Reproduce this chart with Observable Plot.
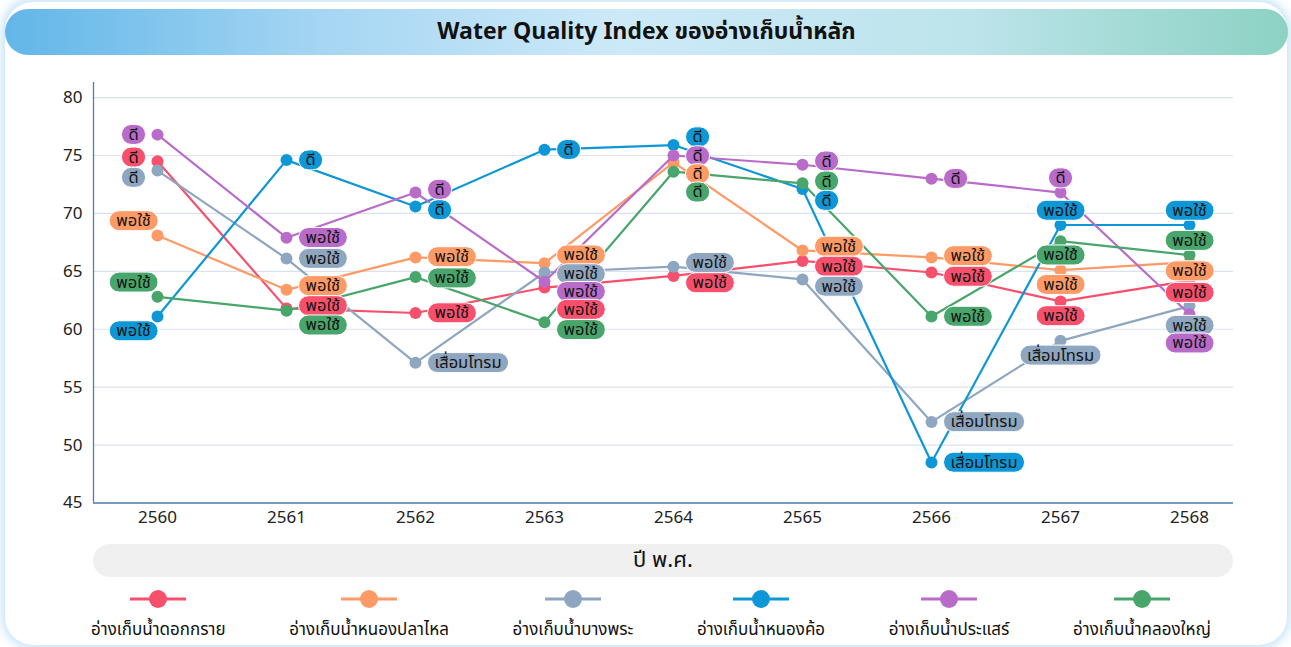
<!DOCTYPE html>
<html><head><meta charset="utf-8">
<script src="https://cdn.jsdelivr.net/npm/d3@7"></script>
<script src="https://cdn.jsdelivr.net/npm/@observablehq/plot@0.6"></script>
<style>
html,body{margin:0;padding:0;}
body{width:1291px;height:647px;position:relative;overflow:hidden;background:#fff;font-family:"Noto Sans Thai","Noto Sans","DejaVu Sans",sans-serif;}
#card{position:absolute;left:5px;top:2px;width:1282px;height:643px;border-radius:28px;background:#fff;box-shadow:0 0 10px 3px rgba(120,190,235,0.45);}
#titlebar{position:absolute;left:5px;top:9px;width:1283px;height:46px;border-radius:23px;background:linear-gradient(90deg,#62b6e8 0%,#a6d6f3 25%,#cde9f8 48%,#bde4eb 75%,#8cd2c3 100%);display:flex;align-items:center;justify-content:center;font-size:23px;font-weight:bold;color:#111;}
#chart{position:absolute;left:0;top:60px;}
#xtitle{position:absolute;left:93px;top:544px;width:1140px;height:33px;border-radius:16.5px;background:#f0f0f0;display:flex;align-items:center;justify-content:center;font-size:22px;color:#111;}
#legend{position:absolute;left:91px;top:589px;width:1120px;display:flex;justify-content:space-between;}
.item{display:flex;flex-direction:column;align-items:center;}
.item span{font-size:17px;line-height:20px;margin-top:11px;color:#111;white-space:nowrap;}
</style>
</head>
<body>
<div id="card"></div>
<div id="titlebar"><span id="title"></span></div>
<div id="chart"></div>
<div id="xtitle"></div>
<div id="legend"></div>
<script>
// ---------- data ----------
const titleText = "Water Quality Index ของอ่างเก็บน้ำหลัก";
const xAxisTitle = "ปี พ.ศ.";
const years = [2560, 2561, 2562, 2563, 2564, 2565, 2566, 2567, 2568];
const yTicks = [45, 50, 55, 60, 65, 70, 75, 80];
const seriesNames = ["อ่างเก็บน้ำดอกกราย", "อ่างเก็บน้ำหนองปลาไหล", "อ่างเก็บน้ำบางพระ", "อ่างเก็บน้ำหนองค้อ", "อ่างเก็บน้ำประแสร์", "อ่างเก็บน้ำคลองใหญ่"];
const seriesColors = ["#f7506c", "#fe9a66", "#8ea6bf", "#0e97d6", "#b96bc9", "#48a56b"];

const dokKrai     = [74.5, 61.8, 61.4, 63.6, 64.6, 65.9, 64.9, 62.4, 64.2];
const nongPlaLai  = [68.1, 63.4, 66.2, 65.7, 74.4, 66.8, 66.2, 65.1, 65.8];
const bangPhra    = [73.7, 66.1, 57.1, 64.9, 65.4, 64.3, 52.0, 59.0, 62.0];
const nongKho     = [61.1, 74.6, 70.6, 75.5, 75.9, 72.1, 48.5, 69.0, 69.0];
const prasae      = [76.8, 67.9, 71.8, 64.1, 75.0, 74.2, 73.0, 71.8, 61.3];
const khlongYai   = [62.8, 61.6, 64.5, 60.6, 73.6, 72.6, 61.1, 67.6, 66.4];

const G = "ดี", F = "พอใช้", P = "เสื่อมโทรม";
const statusDokKrai    = [G, F, F, F, F, F, F, F, F];
const statusNongPlaLai = [F, F, F, F, G, F, F, F, F];
const statusBangPhra   = [G, F, P, F, F, F, P, P, F];
const statusNongKho    = [F, G, G, G, G, G, P, F, F];
const statusPrasae     = [G, F, G, F, G, G, G, G, F];
const statusKhlongYai  = [F, F, F, F, G, G, F, F, F];

const seriesValues = [dokKrai, nongPlaLai, bangPhra, nongKho, prasae, khlongYai];
const seriesStatus = [statusDokKrai, statusNongPlaLai, statusBangPhra, statusNongKho, statusPrasae, statusKhlongYai];

// ---------- layout ----------
const FONT = '"Noto Sans Thai","Noto Sans","DejaVu Sans",sans-serif';
const W = 1291, H = 480, ML = 93, MR = 58, MT = 22, MB = 37.5, INSL = 64, INSR = 44;
const yDomain = [45, 81.3];
const axisColor = "#4d7fb0";
const gridColor = "#dce1ee";
const LABEL_FS = 16.5;

document.getElementById("title").textContent = titleText;
document.getElementById("xtitle").textContent = xAxisTitle;

const long = [];
seriesNames.forEach((name, si) => seriesValues[si].forEach((v, i) => long.push({
  series: name, si, color: seriesColors[si], year: years[i], value: v, status: seriesStatus[si][i]
})));

const xs = Plot.scale({x: {domain: [years[0], years[years.length - 1]], range: [ML + INSL, W - MR - INSR]}});
const ys = Plot.scale({y: {domain: yDomain, range: [H - MB, MT]}});

const ctx = document.createElement("canvas").getContext("2d");
ctx.font = `${LABEL_FS}px ${FONT}`;
const PADX = 7, LH = 20, DOTR = 6, SEP = 21;
const LEFT_DX = -24, RIGHT_GAP = 12;

function labelCost(d, y, others, pts) {
  const dy = y - d.py;
  let cost = dy * dy;
  for (const p of others) {
    if (p === d || p.ly == null) continue;
    if (Math.min(d.bx1, p.bx1) - Math.max(d.bx0, p.bx0) <= 0) continue;
    const ov = Math.max(0, Math.min(y + SEP / 2, p.ly + SEP / 2) - Math.max(y - SEP / 2, p.ly - SEP / 2));
    cost += 8 * ov * ov;
  }
  for (const q of pts) {
    if (Math.min(d.bx1, q.px + DOTR) - Math.max(d.bx0, q.px - DOTR) <= 0) continue;
    const ov = Math.max(0, Math.min(y + LH / 2, q.py + DOTR) - Math.max(y - LH / 2, q.py - DOTR));
    cost += 10 * ov * ov;
  }
  return cost;
}
function bestY(d, others, pts) {
  let best = d.py, bestCost = Infinity;
  for (let dy = -50; dy <= 50; dy += 0.5) {
    const c = labelCost(d, d.py + dy, others, pts);
    if (c < bestCost - 1e-9) { bestCost = c; best = d.py + dy; }
  }
  return best;
}

years.forEach((yr, i) => {
  const mode = i === 0 ? "left" : i >= years.length - 2 ? "center" : "right";
  const pts = long.filter(d => d.year === yr);
  pts.forEach(d => {
    d.px = xs.apply(yr); d.py = ys.apply(d.value); d.mode = mode; d.ly = null;
    const w = ctx.measureText(d.status).width + 2 * PADX;
    const cx = mode === "left" ? d.px + LEFT_DX : mode === "center" ? d.px : d.px + RIGHT_GAP + w / 2;
    d.bx0 = cx - w / 2; d.bx1 = cx + w / 2;
  });
  const order = pts.slice().sort((a, b) => a.py - b.py);
  // greedy placement, top to bottom
  for (const d of order) d.ly = bestY(d, order, pts);
  // relaxation passes so that crowded groups spread both ways
  for (let pass = 0; pass < 6; pass++) {
    for (const d of order) d.ly = bestY(d, order, pts);
  }
});
long.forEach(d => d.labelValue = ys.invert(d.ly));
const byLy = (a, b) => a.ly - b.ly;
const labelsLeft = long.filter(d => d.mode === "left").sort(byLy);
const labelsRight = long.filter(d => d.mode === "right").sort(byLy);
const labelsCenter = long.filter(d => d.mode === "center").sort(byLy);

const seriesMarks = seriesNames.flatMap(name => {
  const rows = long.filter(d => d.series === name);
  return [
    Plot.line(rows, {x: "year", y: "value", stroke: "series", strokeWidth: 2.2}),
    Plot.dot(rows, {x: "year", y: "value", fill: "series", r: DOTR})
  ];
});

const textOpts = {x: "year", y: "labelValue", text: "status", fill: "#151515", fontSize: LABEL_FS};

const chart = Plot.plot({
  width: W, height: H,
  marginLeft: ML, marginRight: MR, marginTop: MT, marginBottom: MB,
  style: {fontFamily: FONT, fontSize: "17px", color: "#222", background: "transparent", overflow: "visible"},
  x: {domain: [years[0], years[years.length - 1]], insetLeft: INSL, insetRight: INSR},
  y: {domain: yDomain},
  color: {domain: seriesNames, range: seriesColors},
  marks: [
    Plot.gridY(yTicks, {stroke: gridColor, strokeOpacity: 1, strokeWidth: 1.2}),
    Plot.ruleY([yDomain[0]], {stroke: axisColor, strokeWidth: 1.3}),
    Plot.ruleX([years[0]], {dx: -INSL, stroke: axisColor, strokeWidth: 1.3}),
    Plot.axisY(yTicks, {tickSize: 0, tickPadding: 11, fontSize: 17, fill: "#222", label: null}),
    Plot.axisX(years, {tickSize: 0, tickPadding: 8, fontSize: 17, fill: "#222", tickFormat: d => String(d), label: null}),
    ...seriesMarks,
    Plot.text(labelsLeft, {...textOpts, textAnchor: "middle", dx: LEFT_DX}),
    Plot.text(labelsRight, {...textOpts, textAnchor: "start", dx: RIGHT_GAP + PADX}),
    Plot.text(labelsCenter, {...textOpts, textAnchor: "middle", dx: 0})
  ]
});
document.getElementById("chart").appendChild(chart);

// label pill backgrounds behind each text
const svgNS = "http://www.w3.org/2000/svg";
const lists = [labelsLeft, labelsRight, labelsCenter];
chart.querySelectorAll('g[aria-label="text"]').forEach((g, gi) => {
  g.querySelectorAll("text").forEach((t, j) => {
    const d = lists[gi][j];
    if (!d) return;
    const bb = t.getBBox();
    const cy = bb.y + bb.height / 2;
    const r = document.createElementNS(svgNS, "rect");
    r.setAttribute("x", bb.x - PADX);
    r.setAttribute("y", cy - LH / 2);
    r.setAttribute("width", bb.width + 2 * PADX);
    r.setAttribute("height", LH);
    r.setAttribute("rx", LH / 2);
    r.setAttribute("fill", d.color);
    r.setAttribute("stroke", "#fff");
    r.setAttribute("stroke-width", 1);
    const tr = t.getAttribute("transform");
    if (tr) r.setAttribute("transform", tr);
    g.insertBefore(r, t);
  });
});

// legend
const legend = document.getElementById("legend");
seriesNames.forEach((name, si) => {
  const item = document.createElement("div");
  item.className = "item";
  item.innerHTML = `<svg width="56" height="20"><line x1="0" x2="56" y1="10" y2="10" stroke="${seriesColors[si]}" stroke-width="3"/><circle cx="28" cy="10" r="9" fill="${seriesColors[si]}"/></svg><span></span>`;
  item.querySelector("span").textContent = name;
  legend.appendChild(item);
});
</script>
</body></html>
